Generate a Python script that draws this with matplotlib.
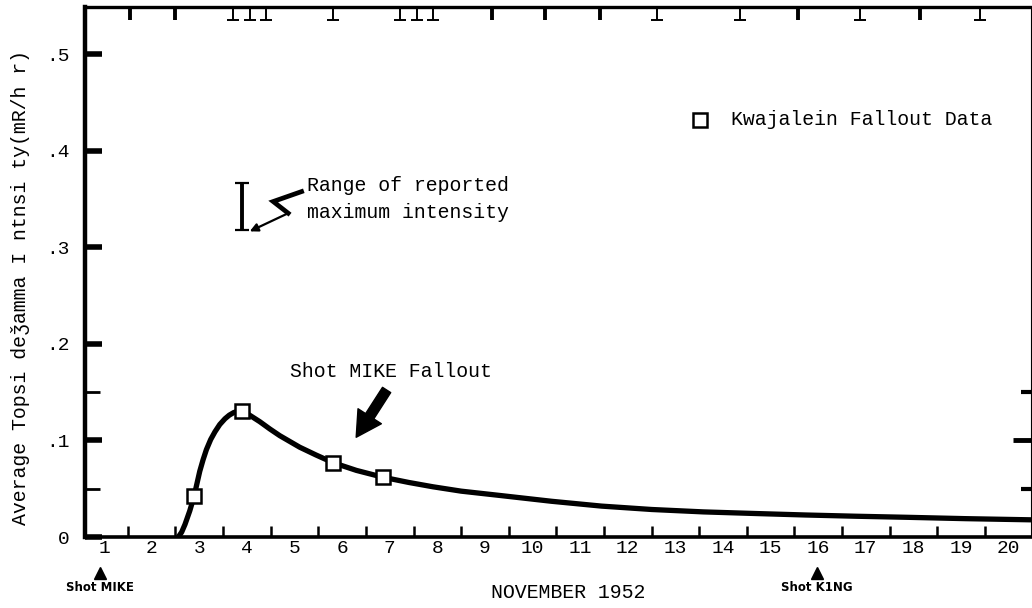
import matplotlib
matplotlib.use("Agg")
import matplotlib.pyplot as plt
import matplotlib.transforms as mtransforms

plt.rcParams['font.family'] = ['Liberation Mono', 'DejaVu Sans Mono']

# Smoothed fallout curve (day of November, mR/hr)
curve_day = [3.06, 3.13, 3.20, 3.30, 3.39, 3.45, 3.51, 3.58, 3.65, 3.74, 3.83,
             3.93, 4.04, 4.13, 4.22, 4.30, 4.39, 4.48, 4.58, 4.77, 4.98, 5.19,
             5.40, 5.61, 5.95, 6.31, 6.80, 7.35, 7.90, 8.41, 9.0, 9.82, 10.9,
             11.95, 13.0, 14.09, 15.2, 16.23, 17.3, 18.37, 19.6, 20.97]
curve_val = [0.000, 0.005, 0.013, 0.027, 0.042, 0.055, 0.068, 0.080, 0.0905, 0.101, 0.109,
             0.1165, 0.1225, 0.1262, 0.1288, 0.1302, 0.131, 0.1285, 0.1255, 0.1195, 0.112, 0.105,
             0.099, 0.093, 0.085, 0.077, 0.069, 0.062, 0.0565, 0.052, 0.0475, 0.043, 0.037,
             0.032, 0.0285, 0.026, 0.0243, 0.0228, 0.0215, 0.0204, 0.019, 0.0178]

# Kwajalein measurements
kwaj_day = [3.39, 4.39, 6.31, 7.35]
kwaj_val = [0.042, 0.131, 0.077, 0.062]

# reported maximum intensity range
range_day = 4.39
range_low = 0.318
range_high = 0.367

# marks hanging from the top border
top_mark_day = [2.04, 2.99, 4.21, 4.56, 4.91, 6.31, 7.71, 8.07, 8.41, 9.64,
                10.76, 11.92, 13.11, 14.86, 16.08, 17.38, 18.64, 19.90]
top_mark_serif = [False, False, True, True, True, True, True, True, True, False,
                  False, False, True, True, False, True, False, True]

day_labels = [str(d) for d in range(1, 21)]
shot_names = ['Shot MIKE', 'Shot K1NG']
shot_day = [1.42, 16.48]

fig = plt.figure(figsize=(10.32, 6.08), dpi=100)
ax = fig.add_axes([85 / 1032, 1 - 537 / 608, 946 / 1032, 530 / 608])
ax.set_xlim(1.1, 20.97)
ax.set_ylim(0, 0.549)

for side, w in [('left', 3.2), ('bottom', 2.6), ('top', 2.4), ('right', 0.8)]:
    ax.spines[side].set_linewidth(w)

# x axis: ticks on day boundaries, labels centred on each day
ax.set_xticks(range(2, 21))
ax.set_xticks([d + 0.5 for d in range(1, 21)], minor=True)
ax.set_xticklabels([])
ax.set_xticklabels(day_labels, minor=True, fontsize=14)
ax.tick_params(axis='x', which='major', direction='in', length=8, width=1.8)
ax.tick_params(axis='x', which='minor', length=0, pad=2)

# y axis
ax.set_yticks([0, 0.1, 0.2, 0.3, 0.4, 0.5])
ax.set_yticklabels(['0', '.1', '.2', '.3', '.4', '.5'], fontsize=14)
ax.set_yticks([0.05, 0.15], minor=True)
ax.tick_params(axis='y', which='major', direction='in', length=12, width=4, pad=11)
ax.tick_params(axis='y', which='minor', direction='in', length=11, width=2)

right = ax.secondary_yaxis('right')
right.spines['right'].set_visible(False)
right.set_yticks([0.1])
right.set_yticks([0.05, 0.15], minor=True)
right.set_yticklabels([])
right.tick_params(which='major', direction='in', length=13, width=3.5)
right.tick_params(which='minor', direction='in', length=7, width=3)

ax.text(-0.0687, 0.47, 'Average Topsi de\u01efamma I ntnsi ty(mR/h r)',
        transform=ax.transAxes, rotation=90, ha='center', va='center', fontsize=14.3)

trans = mtransforms.blended_transform_factory(ax.transData, ax.transAxes)

# curve and data points
ax.plot(curve_day, curve_val, color='black', lw=3.8, solid_joinstyle='round',
        solid_capstyle='butt', zorder=3)
ax.plot(kwaj_day, kwaj_val, 's', ms=10.5, mfc='white', mec='black', mew=1.8, zorder=4)

# range of reported maximum
ax.errorbar([range_day], [(range_low + range_high) / 2],
            yerr=[[(range_high - range_low) / 2], [(range_high - range_low) / 2]],
            fmt='none', ecolor='black', elinewidth=2.8, capsize=4.8, capthick=1.6)
ax.plot([5.649, 5.053, 5.368], [0.3578, 0.3475, 0.3354], color='black', lw=3.4,
        solid_joinstyle='miter')
ax.annotate('', xy=(4.56, 0.3166), xytext=(5.368, 0.3354),
            arrowprops=dict(arrowstyle='-|>', color='black', lw=1.6,
                            mutation_scale=12, shrinkA=0, shrinkB=0))
ax.text(5.76, 0.364, 'Range of reported', fontsize=14.3, va='center', ha='left')
ax.text(5.76, 0.336, 'maximum intensity', fontsize=14.3, va='center', ha='left')

# legend entry
ax.plot([14.02], [0.432], 's', ms=10, mfc='white', mec='black', mew=1.8)
ax.text(14.67, 0.432, 'Kwajalein Fallout Data', fontsize=14.3, va='center', ha='left')

# fallout label and arrow
ax.text(5.40, 0.171, 'Shot MIKE Fallout', fontsize=14.3, va='center', ha='left')
ax.annotate('', xy=(6.796, 0.1033), xytext=(7.435, 0.1523),
            arrowprops=dict(arrowstyle='simple,head_length=0.9,head_width=1.0,tail_width=0.35',
                            color='black', mutation_scale=20, shrinkA=0, shrinkB=0))

# top border marks
for d, serif in zip(top_mark_day, top_mark_serif):
    ax.plot([d, d], [1.0, 0.975], color='black', lw=1.4 if serif else 2.8,
            transform=trans, clip_on=False, solid_capstyle='butt')
    if serif:
        ax.plot([d], [0.975], marker='_', ms=9, mew=1.4, color='black',
                transform=trans, clip_on=False)

# shot markers below the axis
for name, d in zip(shot_names, shot_day):
    ax.plot([d], [-0.068], marker='^', ms=8, color='black', transform=trans,
            clip_on=False)
    ax.text(d, -0.096, name, fontsize=8.5, fontweight='bold', family='DejaVu Sans',
            ha='center', va='center', transform=trans)

ax.text(11.24, -0.104, 'NOVEMBER 1952', fontsize=14.3, ha='center', va='center',
        transform=trans)

fig.savefig('out.png', dpi=100)
